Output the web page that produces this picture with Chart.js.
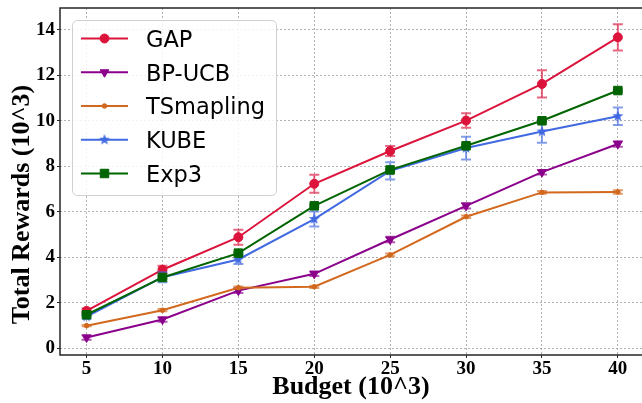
<!DOCTYPE html>
<html>
<head>
<meta charset="utf-8">
<script src="https://cdn.jsdelivr.net/npm/chart.js@4.4.0/dist/chart.umd.min.js"></script>
<style>
  html, body { margin: 0; padding: 0; background: #ffffff; overflow: hidden; }
  #wrap { width: 642px; height: 403px; position: relative; }
</style>
</head>
<body>
<div id="wrap"><canvas id="c" width="642" height="403"></canvas></div>
<script>
// Budget (10^3) on the x axis
const budgets = [5, 10, 15, 20, 25, 30, 35, 40];
const xTickValues = [5, 10, 15, 20, 25, 30, 35, 40];
const yTickValues = [0, 2, 4, 6, 8, 10, 12, 14];

// Mean total rewards (10^3) and their error half-widths
const gapValues   = [1.64, 3.45, 4.88, 7.23, 8.67, 10.01, 11.62, 13.67];
const gapErrors   = [0.10, 0.17, 0.33, 0.40, 0.22, 0.32, 0.60, 0.58];
const bpucbValues = [0.47, 1.26, 2.53, 3.27, 4.78, 6.26, 7.74, 8.98];
const bpucbErrors = [0.10, 0.10, 0.10, 0.10, 0.12, 0.12, 0.10, 0.12];
const tsValues    = [0.99, 1.67, 2.66, 2.70, 4.10, 5.78, 6.85, 6.87];
const tsErrors    = [0.03, 0.05, 0.05, 0.05, 0.06, 0.06, 0.06, 0.08];
const kubeValues  = [1.39, 3.12, 3.90, 5.68, 7.80, 8.80, 9.53, 10.20];
const kubeErrors  = [0.10, 0.22, 0.20, 0.33, 0.38, 0.50, 0.50, 0.38];
const exp3Values  = [1.47, 3.11, 4.18, 6.26, 7.84, 8.90, 10.00, 11.33];
const exp3Errors  = [0.05, 0.05, 0.05, 0.05, 0.05, 0.05, 0.05, 0.05];

const seriesNames = ['GAP', 'BP-UCB', 'TSmapling', 'KUBE', 'Exp3'];

// filled five-point star used as a point marker
function starImage(color, outer, inner) {
  const size = Math.ceil(outer * 2) + 2;
  const c = document.createElement('canvas');
  c.width = size; c.height = size;
  const g = c.getContext('2d');
  const cx = size / 2, cy = size / 2;
  g.beginPath();
  for (let i = 0; i < 10; i++) {
    const r = (i % 2) ? inner : outer;
    const a = -Math.PI / 2 + i * Math.PI / 5;
    g.lineTo(cx + r * Math.cos(a), cy + r * Math.sin(a));
  }
  g.closePath();
  g.fillStyle = color;
  g.fill();
  return c;
}

function rgba(hex, a) {
  const n = parseInt(hex.slice(1), 16);
  return `rgba(${(n >> 16) & 255},${(n >> 8) & 255},${n & 255},${a})`;
}

function series(label, color, values, errors, marker, order) {
  return {
    label,
    data: budgets.map((b, i) => ({ x: b, y: values[i] })),
    errors,
    borderColor: color,
    backgroundColor: color,
    borderWidth: 2,
    tension: 0,
    pointStyle: marker.style,
    pointRadius: marker.radius,
    pointRotation: marker.rotation || 0,
    pointBorderWidth: marker.border,
    pointBackgroundColor: color,
    pointBorderColor: color,
    order
  };
}

const datasets = [
  series(seriesNames[0], '#DC143C', gapValues,   gapErrors,   { style: 'circle',   radius: 4.5, border: 1 }, 4),
  series(seriesNames[1], '#8B008B', bpucbValues, bpucbErrors, { style: 'triangle', radius: 5,   border: 1, rotation: 180 }, 3),
  series(seriesNames[2], '#D2691E', tsValues,    tsErrors,    { style: 'circle',   radius: 2.3, border: 1 }, 2),
  series(seriesNames[3], '#4169E1', kubeValues,  kubeErrors,  { style: starImage('#4169E1', 5.8, 2.4), radius: 5, border: 0 }, 1),
  series(seriesNames[4], '#006400', exp3Values,  exp3Errors,  { style: 'rect',     radius: 6,   border: 1 }, 0)
];

// vertical error bars with caps, drawn with each series
const errorBars = {
  id: 'errorBars',
  afterDatasetDraw(chart, args) {
    const ds = chart.data.datasets[args.index];
    const { ctx, scales: { x, y } } = chart;
    ctx.save();
    ctx.strokeStyle = rgba(ds.borderColor, 0.65);
    ctx.lineWidth = 2;
    ds.data.forEach((p, j) => {
      const e = ds.errors[j];
      const px = x.getPixelForValue(p.x);
      const top = y.getPixelForValue(p.y + e);
      const bot = y.getPixelForValue(p.y - e);
      ctx.beginPath();
      ctx.moveTo(px, top); ctx.lineTo(px, bot);
      ctx.moveTo(px - 5, top); ctx.lineTo(px + 5, top);
      ctx.moveTo(px - 5, bot); ctx.lineTo(px + 5, bot);
      ctx.stroke();
    });
    ctx.restore();
  }
};

// left, top and bottom spines of the plotting frame
const frame = {
  id: 'frame',
  afterDatasetsDraw(chart) {
    const { ctx, chartArea: a } = chart;
    ctx.save();
    ctx.strokeStyle = '#262626';
    ctx.lineWidth = 1.5;
    ctx.beginPath();
    ctx.moveTo(a.right + 2, a.top);
    ctx.lineTo(a.left, a.top);
    ctx.lineTo(a.left, a.bottom);
    ctx.lineTo(a.right + 2, a.bottom);
    ctx.stroke();
    ctx.restore();
  }
};

// legend box in the upper-left corner of the plot, plus the y-axis title
const legendBox = {
  id: 'legendBox',
  afterDraw(chart) {
    const { ctx, chartArea: a } = chart;
    const bx = a.left + 12, by = a.top + 12, bw = 204, bh = 175;
    ctx.save();
    ctx.beginPath();
    ctx.roundRect(bx + 0.5, by + 0.5, bw, bh, 5);
    ctx.fillStyle = 'rgba(255,255,255,0.85)';
    ctx.fill();
    ctx.strokeStyle = '#d0d0d0';
    ctx.lineWidth = 1;
    ctx.stroke();

    chart.data.datasets.forEach((ds, i) => {
      const ry = by + 18.5 + i * 33.75;
      ctx.strokeStyle = ds.borderColor;
      ctx.lineWidth = 2;
      ctx.beginPath();
      ctx.moveTo(bx + 9, ry);
      ctx.lineTo(bx + 56, ry);
      ctx.stroke();
      ctx.fillStyle = ds.borderColor;
      ctx.strokeStyle = ds.borderColor;
      ctx.lineWidth = ds.pointBorderWidth;
      Chart.helpers.drawPoint(ctx, {
        pointStyle: ds.pointStyle,
        rotation: ds.pointRotation,
        radius: ds.pointRadius,
        borderWidth: ds.pointBorderWidth
      }, bx + 32.5, ry);
      ctx.fillStyle = '#000000';
      ctx.font = "22.5px 'DejaVu Sans'";
      ctx.textAlign = 'left';
      ctx.textBaseline = 'alphabetic';
      ctx.fillText(ds.label, bx + 74, ry + 8.3);
    });

    // y-axis title
    ctx.translate(22, 204.5);
    ctx.rotate(-Math.PI / 2);
    ctx.font = "bold 26px 'Liberation Serif'";
    ctx.textAlign = 'center';
    ctx.textBaseline = 'middle';
    ctx.fillStyle = '#000000';
    ctx.fillText('Total Rewards (10^3)', 0, 0);
    ctx.restore();
  }
};

const tickFont = { family: "'Liberation Serif'", size: 19, weight: 'bold' };
const gridOpts = {
  color: 'rgba(150,150,150,0.75)', lineWidth: 1, dash: [2, 2],
  drawTicks: true, tickLength: 3, tickColor: '#262626', tickWidth: 1
};

// keep the plot area flush with the fixed axis sizes
function noLabelPadding(s) {
  s.paddingTop = 0; s.paddingBottom = 0; s.paddingLeft = 0; s.paddingRight = 0;
}

new Chart(document.getElementById('c'), {
  type: 'line',
  data: { datasets },
  options: {
    responsive: false,
    animation: false,
    events: [],
    devicePixelRatio: 1,
    layout: { autoPadding: false, padding: { left: 0, right: 0, top: 8, bottom: 0 } },
    plugins: { legend: { display: false }, tooltip: { enabled: false } },
    scales: {
      x: {
        type: 'linear',
        min: 3.25,
        max: 41.59,
        grid: gridOpts,
        border: { display: false, dash: [2, 2] },
        afterBuildTicks: s => { s.ticks = xTickValues.map(v => ({ value: v })); },
        afterFit: s => { s.height = 48; noLabelPadding(s); },
        ticks: { font: tickFont, color: '#000000', padding: 0, maxRotation: 0, autoSkip: false },
        title: {
          display: true,
          text: 'Budget (10^3)',
          color: '#000000',
          font: { family: "'Liberation Serif'", size: 26, weight: 'bold' },
          padding: { top: 0, bottom: 0 }
        }
      },
      y: {
        type: 'linear',
        min: -0.3,
        max: 14.96,
        grid: gridOpts,
        border: { display: false, dash: [2, 2] },
        afterBuildTicks: s => { s.ticks = yTickValues.map(v => ({ value: v })); },
        afterFit: s => { s.width = 60; noLabelPadding(s); },
        ticks: { font: tickFont, color: '#000000', padding: 2, autoSkip: false }
      }
    }
  },
  plugins: [errorBars, frame, legendBox]
});
</script>
</body>
</html>
